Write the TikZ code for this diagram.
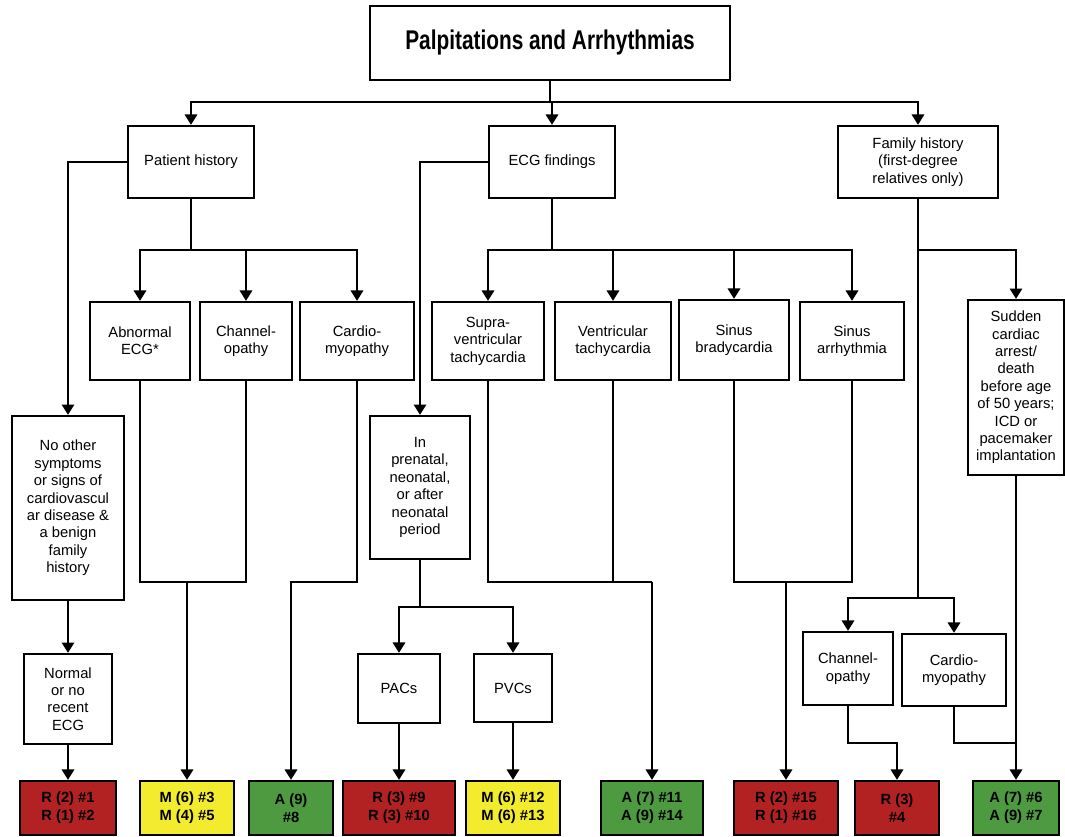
\documentclass[tikz,border=0pt]{standalone}
\usepackage{fontspec}
\setmainfont{Liberation Sans}
\newfontfamily\titlefont[FakeStretch=0.77]{Liberation Sans}
\usetikzlibrary{arrows.meta}
\definecolor{resred}{RGB}{178,34,34}
\definecolor{resyellow}{RGB}{243,236,46}
\definecolor{resgreen}{RGB}{78,154,65}

\begin{document}
\begin{tikzpicture}[x=0.02cm,
y=-0.02cm,
line width=1.3pt,
every node/.style={
rectangle,
align = center,
inner sep=0pt,
font=\fontsize{8.4}{9.9}\selectfont,
},
box/.style={
draw,
fill=white,
},
res/.style={
draw,
minimum height=1.08cm,
font=\fontsize{8.4}{10.4}\selectfont\bfseries,
},
arr/.style={
-{Triangle[length=5.9pt,width=7pt]},
}]
\useasboundingbox (0,0) rectangle (1065,837);

%Title box
\node[box,minimum width=7.2cm,minimum height=1.48cm] (title) at (550,43) {\titlefont\fontsize{15.4}{18}\selectfont\bfseries Palpitations and Arrhythmias};

%Main branches
\node[box,minimum width=2.52cm,minimum height=1.44cm] (ph) at (191,162) {Patient history};
\node[box,minimum width=2.52cm,minimum height=1.44cm] (ecg) at (552,162) {ECG findings};
\node[box,minimum width=3.2cm,minimum height=1.44cm] (fh) at (918,162) {Family history\\(first-degree\\relatives only)};

%Patient history
\node[box,minimum width=2.0cm,minimum height=1.56cm] (abn) at (140,341) {Abnormal\\ECG*};
\node[box,minimum width=1.84cm,minimum height=1.56cm] (chan) at (246,341) {Channel-\\opathy};
\node[box,minimum width=2.28cm,minimum height=1.56cm] (cardio) at (357,341) {Cardio-\\myopathy};
\node[box,minimum width=2.24cm,minimum height=3.68cm] (noother) at (68,508) {No other\\symptoms\\or signs of\\cardiovascul\\ar disease \&\\a benign\\family\\history};
\node[box,minimum width=1.76cm,minimum height=1.8cm] (normal) at (68,699) {Normal\\or no\\recent\\ECG};

%ECG findings
\node[box,minimum width=2.24cm,minimum height=1.56cm] (supra) at (488,341) {Supra-\\ventricular\\tachycardia};
\node[box,minimum width=2.32cm,minimum height=1.56cm] (ventr) at (613,341) {Ventricular\\tachycardia};
\node[box,minimum width=2.2cm,minimum height=1.6cm] (brady) at (734,340) {Sinus\\bradycardia};
\node[box,minimum width=2.08cm,minimum height=1.56cm] (arrh) at (852,341) {Sinus\\arrhythmia};
\node[box,minimum width=2.0cm,minimum height=2.86cm] (prenatal) at (420,487.5) {In\\prenatal,\\neonatal,\\or after\\neonatal\\period};
\node[box,minimum width=1.64cm,minimum height=1.38cm] (pacs) at (399,688.5) {PACs};
\node[box,minimum width=1.56cm,minimum height=1.36cm] (pvcs) at (513,688) {PVCs};

%Family history
\node[box,minimum width=1.92cm,minimum height=3.5cm] (sudden) at (1016,387.5) {Sudden\\cardiac\\arrest/\\death\\before age\\of 50 years;\\ICD or\\pacemaker\\implantation};
\node[box,minimum width=1.8cm,minimum height=1.46cm] (chanr) at (848,668.5) {Channel-\\opathy};
\node[box,minimum width=2.08cm,minimum height=1.44cm] (cardr) at (954,670) {Cardio-\\myopathy};

%Ratings
\node[res,fill=resred,minimum width=1.92cm] (r1) at (68,808) {R (2) \#1\\R (1) \#2};
\node[res,fill=resyellow,minimum width=1.88cm] (m3) at (187,808) {M (6) \#3\\M (4) \#5};
\node[res,fill=resgreen,minimum width=1.68cm] (a8) at (291,808) {A (9)\\\#8};
\node[res,fill=resred,minimum width=2.24cm] (r9) at (399,808) {R (3) \#9\\R (3) \#10};
\node[res,fill=resyellow,minimum width=1.88cm] (m12) at (513,808) {M (6) \#12\\M (6) \#13};
\node[res,fill=resgreen,minimum width=2.04cm] (a11) at (652,808) {A (7) \#11\\A (9) \#14};
\node[res,fill=resred,minimum width=2.08cm] (r15) at (786,808) {R (2) \#15\\R (1) \#16};
\node[res,fill=resred,minimum width=1.68cm] (r4) at (897,808) {R (3)\\\#4};
\node[res,fill=resgreen,minimum width=1.72cm] (a6) at (1016,808) {A (7) \#6\\A (9) \#7};

%Connectors
\coordinate (j0) at (550,102);
\draw (title) -- (j0);
\foreach \n in {ph,ecg,fh} \draw[arr] (j0) -| (\n);

\draw[arr] (ph) -| (noother);
\coordinate (j1) at (191,250);
\draw (ph) -- (j1);
\foreach \n in {abn,chan,cardio} \draw[arr] (j1) -| (\n);

\draw[arr] (ecg) -| (prenatal);
\coordinate (j2) at (552,250);
\draw (ecg) -- (j2);
\foreach \n in {supra,ventr,brady,arrh} \draw[arr] (j2) -| (\n);

\coordinate (j3) at (918,250);
\coordinate (j4) at (918,598);
\draw (fh) -- (j4);
\draw[arr] (j3) -| (sudden);
\foreach \n in {chanr,cardr} \draw[arr] (j4) -| (\n);

\draw[arr] (noother) -- (normal);
\draw[arr] (normal) -- (r1);

\coordinate (j5) at (187,582);
\draw (abn) |- (j5) -| (chan);
\draw[arr] (j5) -- (m3);
\coordinate (j6) at (291,582);
\draw[arr] (cardio) |- (j6) -- (a8);

\coordinate (j7) at (420,607);
\draw (prenatal) -- (j7);
\foreach \n in {pacs,pvcs} \draw[arr] (j7) -| (\n);
\draw[arr] (pacs) -- (r9);
\draw[arr] (pvcs) -- (m12);

\coordinate (j8) at (652,582);
\draw (supra) |- (j8);
\draw (ventr) -- (ventr |- j8);
\draw[arr] (j8) -- (a11);

\coordinate (j9) at (786,582);
\draw (brady) |- (j9) -| (arrh);
\draw[arr] (j9) -- (r15);

\coordinate (j10) at (897,743);
\draw[arr] (chanr) |- (j10) -- (r4);
\coordinate (j11) at (1016,743);
\draw (cardr) |- (j11);
\draw[arr] (sudden) -- (a6);
\end{tikzpicture}
\end{document}
